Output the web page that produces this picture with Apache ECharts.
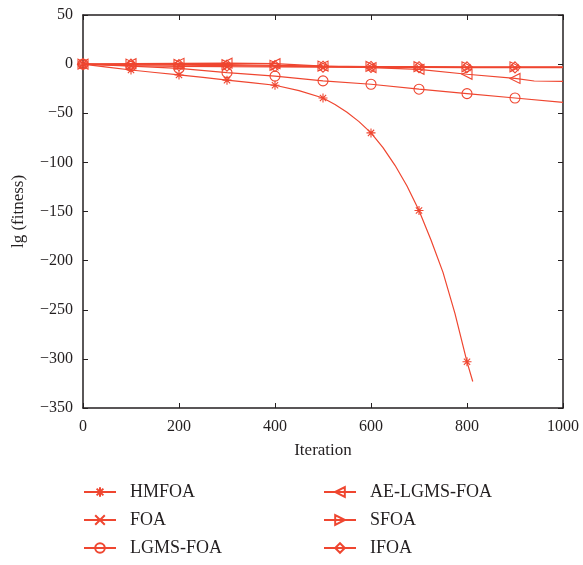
<!DOCTYPE html>
<html>
<head>
<meta charset="utf-8">
<script src="https://cdn.jsdelivr.net/npm/echarts@6/dist/echarts.min.js"></script>
<style>html,body{margin:0;padding:0;background:#fff}#c{width:583px;height:565px}</style>
</head>
<body>
<div id="c"></div>
<script>
// ---- data ----
const xTicks = [0, 200, 400, 600, 800, 1000];
const yTicks = [-350, -300, -250, -200, -150, -100, -50, 0, 50];

const hmfoaIter = [0, 50, 100, 150, 200, 250, 300, 350, 400, 450, 500, 525, 550, 575, 600, 625, 650, 675, 700, 725, 750, 775, 800, 812];
const hmfoaVal  = [0, -3, -6, -8.5, -11, -13.5, -16.3, -18.8, -21.5, -27, -34.5, -41, -49, -58.5, -70, -85, -103, -124, -149, -179, -212, -254, -303, -323];

const iter100 = [0, 100, 200, 300, 400, 500, 600, 700, 800, 900, 1000];
const foaVal  = [0, -1.5, -2.2, -2.6, -2.9, -3.1, -3.3, -3.4, -3.5, -3.6, -3.7];
const lgmsVal = [0, -2, -4.4, -8.7, -12.2, -17, -20.5, -25.5, -30, -34.5, -39];
const sfoaVal = [0, 0, -0.3, -0.6, -1.2, -2, -2.4, -2.6, -2.7, -2.7, -2.7];
const ifoaVal = [0, -0.5, -1, -1.5, -2, -2.6, -2.9, -3.1, -3.2, -3.3, -3.3];

const aeIter = [0, 100, 200, 300, 400, 500, 600, 700, 800, 900, 940, 1000];
const aeVal  = [0, 0.5, 0.8, 1, 0.5, -2, -3.5, -5.3, -10.3, -14.6, -17.2, -17.5];

const names = ['HMFOA', 'FOA', 'LGMS-FOA', 'AE-LGMS-FOA', 'SFOA', 'IFOA'];

// ---- styles ----
const RED = '#ef4630';
const TXT = '#231f20';
const FONT = 'Liberation Serif';
const symbols = {
  'HMFOA': 'path://M0,-5L0,5M-5,0L5,0M-3.5,-3.5L3.5,3.5M-3.5,3.5L3.5,-3.5',
  'FOA': 'path://M-1,-1L1,1M-1,1L1,-1',
  'LGMS-FOA': 'circle',
  'AE-LGMS-FOA': 'path://M-1,0L1,-1L1,1Z',
  'SFOA': 'path://M1,0L-1,-1L-1,1Z',
  'IFOA': 'path://M0,-1.2L1,0L0,1.2L-1,0Z'
};
const sizes = {'HMFOA': 9, 'FOA': 7, 'LGMS-FOA': 10, 'AE-LGMS-FOA': 10, 'SFOA': 10, 'IFOA': 11};

function build(xs, ys) {
  return xs.map((x, i) => {
    const d = {value: [x, ys[i]]};
    if (x % 100 !== 0 || x >= 1000) d.symbol = 'none';
    return d;
  });
}
const seriesData = {
  'HMFOA': build(hmfoaIter, hmfoaVal),
  'FOA': build(iter100, foaVal),
  'LGMS-FOA': build(iter100, lgmsVal),
  'AE-LGMS-FOA': build(aeIter, aeVal),
  'SFOA': build(iter100, sfoaVal),
  'IFOA': build(iter100, ifoaVal)
};

const series = names.map(n => ({
  name: n,
  type: 'line',
  data: seriesData[n],
  symbol: symbols[n],
  symbolSize: sizes[n],
  showAllSymbol: true,
  lineStyle: {color: RED, width: 1.2},
  itemStyle: {color: 'rgba(0,0,0,0)', borderColor: RED, borderWidth: 1.1},
  emphasis: {disabled: true},
  animation: false,
  z: 3
}));

const axisCommon = {
  axisLine: {show: true, onZero: false, lineStyle: {color: TXT, width: 1.5}},
  axisTick: {show: true, inside: true, length: 5, lineStyle: {color: TXT, width: 1}},
  splitLine: {show: false}
};
const labelStyle = {color: TXT, fontFamily: FONT, fontSize: 16};

// one legend per item, laid out as two columns of three rows
const legendLeft = [78, 78, 78, 318, 318, 318];
const legendTop = [478, 506, 534, 478, 506, 534];
const legends = names.map((n, i) => ({
  orient: 'horizontal',
  left: legendLeft[i],
  top: legendTop[i],
  itemWidth: 32,
  itemHeight: 12,
  textStyle: {color: TXT, fontFamily: FONT, fontSize: 18, lineHeight: 18, padding: [0, 0, 0, 9]},
  selectedMode: false,
  data: [n]
}));

const chart = echarts.init(document.getElementById('c'));
chart.setOption({
  animation: false,
  backgroundColor: '#fff',
  grid: {left: 83, right: 20, top: 15, bottom: 157},
  legend: legends,
  xAxis: [
    Object.assign({}, axisCommon, {
      type: 'value', min: xTicks[0], max: xTicks[xTicks.length - 1], interval: 200,
      name: 'Iteration', nameLocation: 'middle', nameGap: 34,
      nameTextStyle: {color: TXT, fontFamily: FONT, fontSize: 17},
      axisLabel: Object.assign({margin: 11, formatter: v => String(v)}, labelStyle)
    }),
    Object.assign({}, axisCommon, {
      type: 'value', position: 'top', min: 0, max: 1000, interval: 200,
      axisLabel: {show: false}
    })
  ],
  yAxis: [
    Object.assign({}, axisCommon, {
      type: 'value', min: yTicks[0], max: yTicks[yTicks.length - 1], interval: 50,
      name: 'lg (fitness)', nameLocation: 'middle', nameGap: 56,
      nameTextStyle: {color: TXT, fontFamily: FONT, fontSize: 17},
      axisLabel: Object.assign({margin: 10, formatter: v => v < 0 ? '\u2212' + Math.abs(v) : String(v)}, labelStyle)
    }),
    Object.assign({}, axisCommon, {
      type: 'value', position: 'right', min: -350, max: 50, interval: 50,
      axisLabel: {show: false}
    })
  ],
  series: series
});
</script>
</body>
</html>
